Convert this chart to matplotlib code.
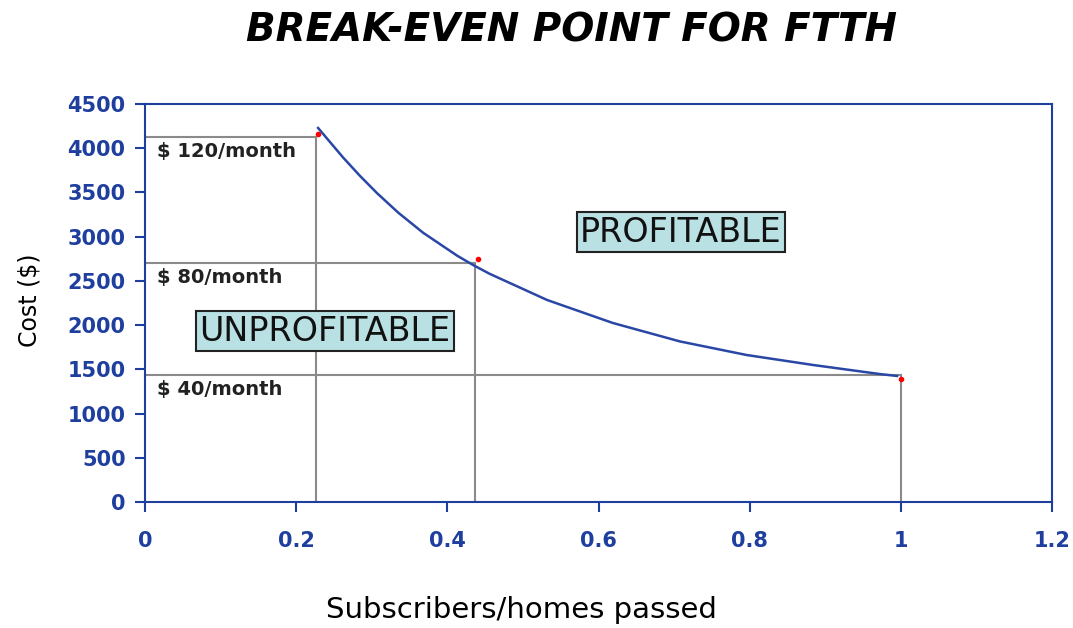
import matplotlib
matplotlib.use('Agg')
import matplotlib.pyplot as plt

# curve
curve_x = [0.229, 0.262, 0.284, 0.307, 0.335, 0.368, 0.413, 0.434, 0.456,
           0.532, 0.619, 0.708, 0.796, 0.884, 0.972, 0.995]
curve_y = [4229, 3896, 3691, 3492, 3272, 3044, 2785, 2680, 2580,
           2284, 2024, 1815, 1662, 1549, 1447, 1425]

# break-even points (red) and guide lines
point_x = [0.229, 0.44, 1.0]
point_y = [4160, 2750, 1390]
guide_x = [0.226, 0.437, 1.0]
guide_y = [4130, 2700, 1436]
guide_labels = ['$ 120/month', '$ 80/month', '$ 40/month']

x_ticks = [0, 0.2, 0.4, 0.6, 0.8, 1.0, 1.2]
x_ticklabels = ['0', '0.2', '0.4', '0.6', '0.8', '1', '1.2']
y_ticks = [0, 500, 1000, 1500, 2000, 2500, 3000, 3500, 4000, 4500]

blue = '#1f3f9f'
grey = '#8a8a8a'
box = '#b9e1e4'

fig = plt.figure(figsize=(10.73, 6.28), dpi=100)
ax = fig.add_axes([145/1073, 1-502/628, (1052-145)/1073, (502-104)/628])

for gx, gy in zip(guide_x, guide_y):
    ax.plot([0, gx], [gy, gy], color=grey, lw=1.5, zorder=1)
    ax.plot([gx, gx], [0, gy], color=grey, lw=1.5, zorder=1)

ax.plot(curve_x, curve_y, color='#2a47a6', lw=1.8, zorder=3)
ax.plot(point_x, point_y, 'o', color='red', ms=3, zorder=4)

for gy, lab in zip(guide_y, guide_labels):
    ax.text(0.016, gy - 55, lab, fontsize=14, fontweight='bold', color='#222222',
            va='top', ha='left')

ax.text(0.238, 1930, 'UNPROFITABLE', fontsize=24, ha='center', va='center', color='#111111',
        bbox=dict(boxstyle='square,pad=0.1', fc=box, ec='#222222', lw=1.5))
ax.text(0.709, 3050, 'PROFITABLE', fontsize=24, ha='center', va='center', color='#111111',
        bbox=dict(boxstyle='square,pad=0.1', fc=box, ec='#222222', lw=1.5))

ax.set_xlim(0, 1.2)
ax.set_ylim(0, 4500)
ax.set_xticks(x_ticks)
ax.set_xticklabels(x_ticklabels)
ax.set_yticks(y_ticks)
for s in ax.spines.values():
    s.set_color(blue)
    s.set_linewidth(1.5)
ax.tick_params(colors=blue, width=1.5, length=7, labelsize=15, pad=7)
for t in ax.get_xticklabels() + ax.get_yticklabels():
    t.set_fontweight('bold')
ax.tick_params(axis='x', pad=14)

fig.text(572/1073, 1-30/628, 'BREAK-EVEN POINT FOR FTTH', fontsize=28, fontweight='bold',
         style='italic', ha='center', va='center')
fig.text(30/1073, 1-300/628, 'Cost ($)', fontsize=17, rotation=90, ha='center', va='center')
fig.text(521/1073, 1-610/628, 'Subscribers/homes passed', fontsize=21, ha='center', va='center')

fig.savefig('out.png', dpi=100)
